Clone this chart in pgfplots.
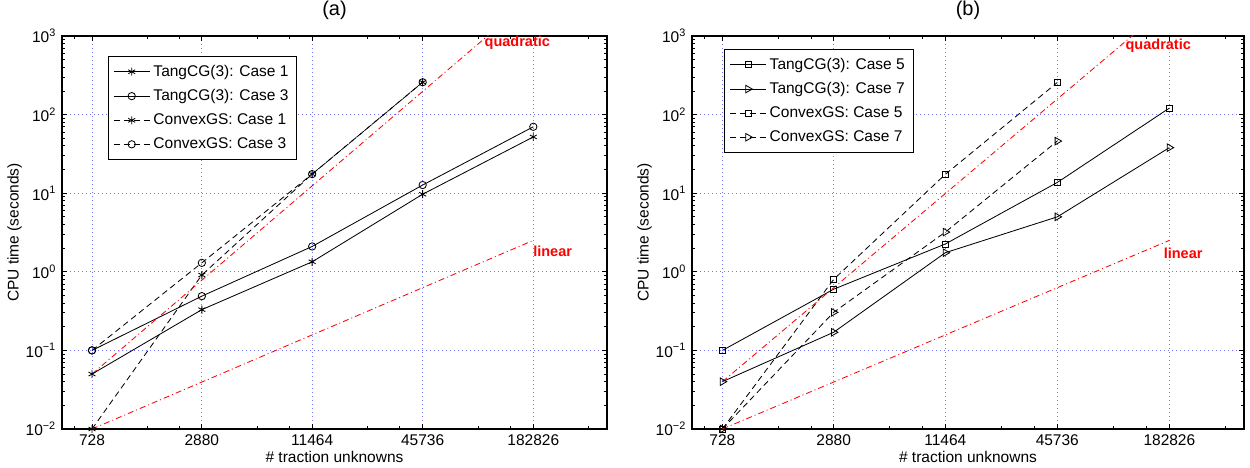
\documentclass[border=0pt]{standalone}
\usepackage{fontspec}
\setmainfont{Liberation Sans}
\usepackage{pgfplots}
\pgfplotsset{compat=1.18}

\definecolor{gridblue}{RGB}{120,120,240}

\tikzset{
  solidser/.style={black, line width=0.5pt, solid},
  dashser/.style={black, line width=0.5pt, dash pattern=on 3.6pt off 2.4pt},
  refline/.style={red, line width=0.5pt, dash pattern=on 3.6pt off 1.8pt on 0.6pt off 1.8pt},
  reflabel/.style={anchor=west, text=red, font=\fontsize{8.7}{10}\selectfont\bfseries, inner sep=0pt},
}

\begin{document}
\begin{tikzpicture}
\path[use as bounding box] (0,0) rectangle (750pt,280.8pt);

% ---- panel (a)
\begin{axis}[
  xmode=log, ymode=log,
  scale only axis,
  at={(37.2pt,23.4pt)}, anchor=south west,
  width=327pt, height=235.8pt,
  xmin=500, xmax=4.6e5,
  ymin=1e-2, ymax=1e3,
  xtick={728,2880,11464,45736,182826},
  xticklabels={728,2880,11464,45736,182826},
  minor xtick={582,1456,2184,5760,8640,22928,34392,91472,137208,365652},
  ytick={1e-2,1e-1,1,1e1,1e2,1e3},
  yticklabels={10\textsuperscript{−2},10\textsuperscript{−1},10\textsuperscript{0},10\textsuperscript{1},10\textsuperscript{2},10\textsuperscript{3}},
  tick label style={font=\fontsize{9.3}{11}\selectfont},
  label style={font=\fontsize{9.3}{11}\selectfont},
  title style={font=\fontsize{12}{14}\selectfont, yshift=0pt},
  title={(a)},
  xlabel={\# traction unknowns},
  ylabel={CPU time (seconds)},
  xlabel style={at={(axis description cs:0.5,-0.071)}, anchor=center},
  ylabel style={at={(axis description cs:-0.087,0.5)}, anchor=center},
  axis line style={line width=0.8pt},
  tick align=inside,
  tick style={black, line width=0.5pt},
  major tick length=3pt,
  minor tick length=1.8pt,
  xmajorgrids=true, ymajorgrids=true,
  major grid style={gridblue, dotted, line width=0.5pt},
  legend cell align=left,
  legend style={font=\fontsize{9.3}{11}\selectfont, draw=black, line width=0.6pt,
    row sep=2.4pt, inner xsep=3pt, inner ysep=3pt,
    at={(axis description cs:0.084,0.949)}, anchor=north west},
  legend image code/.code={%
    \draw[mark repeat=2,mark phase=2] plot coordinates {(0cm,0cm) (0.38cm,0cm) (0.76cm,0cm)};},
]
\addplot[solidser, mark=asterisk, mark size=2.4pt, mark options={solid}]
  coordinates {(728,0.05) (2880,0.33) (11464,1.34) (45736,9.7) (182826,52)};
\addlegendentry{TangCG(3): Case 1}
\addplot[solidser, mark=o, mark size=2.2pt, mark options={solid}]
  coordinates {(728,0.1) (2880,0.49) (11464,2.1) (45736,12.7) (182826,70)};
\addlegendentry{TangCG(3): Case 3}
\addplot[dashser, mark=asterisk, mark size=2.4pt, mark options={solid}]
  coordinates {(728,0.01) (2880,0.91) (11464,17.5) (45736,258)};
\addlegendentry{ConvexGS: Case 1}
\addplot[dashser, mark=o, mark size=2.2pt, mark options={solid}]
  coordinates {(728,0.1) (2880,1.3) (11464,17.5) (45736,258)};
\addlegendentry{ConvexGS: Case 3}
\addplot[refline, forget plot] coordinates {(728,0.05) (182826,3153)};
\addplot[refline, forget plot] coordinates {(728,0.01) (182826,2.51)};
\node[reflabel] at (axis cs:99000,815) {quadratic};
\node[reflabel] at (axis cs:182000,1.84) {linear};
\end{axis}

% ---- panel (b)
\begin{axis}[
  xmode=log, ymode=log,
  scale only axis,
  at={(415.2pt,23.4pt)}, anchor=south west,
  width=331.2pt, height=235.8pt,
  xmin=500, xmax=4.6e5,
  ymin=1e-2, ymax=1e3,
  xtick={728,2880,11464,45736,182826},
  xticklabels={728,2880,11464,45736,182826},
  minor xtick={582,1456,2184,5760,8640,22928,34392,91472,137208,365652},
  ytick={1e-2,1e-1,1,1e1,1e2,1e3},
  yticklabels={10\textsuperscript{−2},10\textsuperscript{−1},10\textsuperscript{0},10\textsuperscript{1},10\textsuperscript{2},10\textsuperscript{3}},
  tick label style={font=\fontsize{9.3}{11}\selectfont},
  label style={font=\fontsize{9.3}{11}\selectfont},
  title style={font=\fontsize{12}{14}\selectfont, yshift=0pt},
  title={(b)},
  xlabel={\# traction unknowns},
  ylabel={CPU time (seconds)},
  xlabel style={at={(axis description cs:0.5,-0.071)}, anchor=center},
  ylabel style={at={(axis description cs:-0.086,0.5)}, anchor=center},
  axis line style={line width=0.8pt},
  tick align=inside,
  tick style={black, line width=0.5pt},
  major tick length=3pt,
  minor tick length=1.8pt,
  xmajorgrids=true, ymajorgrids=true,
  major grid style={gridblue, dotted, line width=0.5pt},
  legend cell align=left,
  legend style={font=\fontsize{9.3}{11}\selectfont, draw=black, line width=0.6pt,
    row sep=2.4pt, inner xsep=3pt, inner ysep=3pt,
    at={(axis description cs:0.058,0.967)}, anchor=north west},
  legend image code/.code={%
    \draw[mark repeat=2,mark phase=2] plot coordinates {(0cm,0cm) (0.38cm,0cm) (0.76cm,0cm)};},
]
\addplot[solidser, mark=square, mark size=1.8pt, mark options={solid}]
  coordinates {(728,0.1) (2880,0.6) (11464,2.26) (45736,13.7) (182826,121)};
\addlegendentry{TangCG(3): Case 5}
\addplot[solidser, mark=triangle, mark size=2.6pt, mark options={solid, rotate=-90}]
  coordinates {(728,0.04) (2880,0.17) (11464,1.75) (45736,5.0) (182826,38)};
\addlegendentry{TangCG(3): Case 7}
\addplot[dashser, mark=square, mark size=1.8pt, mark options={solid}]
  coordinates {(728,0.01) (2880,0.8) (11464,17.4) (45736,256)};
\addlegendentry{ConvexGS: Case 5}
\addplot[dashser, mark=triangle, mark size=2.6pt, mark options={solid, rotate=-90}]
  coordinates {(728,0.01) (2880,0.305) (11464,3.2) (45736,46)};
\addlegendentry{ConvexGS: Case 7}
\addplot[refline, forget plot] coordinates {(728,0.04) (182826,2522)};
\addplot[refline, forget plot] coordinates {(728,0.01) (182826,2.51)};
\node[reflabel] at (axis cs:106000,746) {quadratic};
\node[reflabel] at (axis cs:170000,1.74) {linear};
\end{axis}
\end{tikzpicture}
\end{document}
